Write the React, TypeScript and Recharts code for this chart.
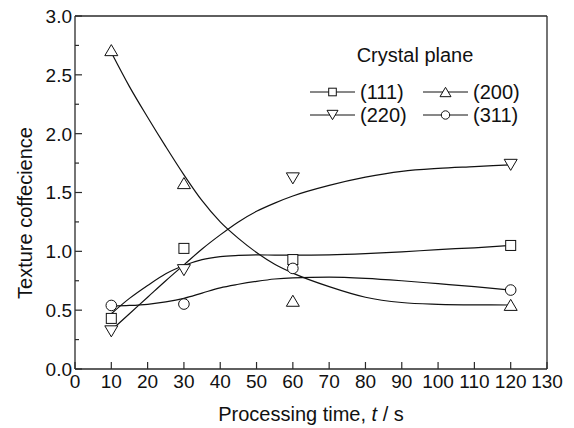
import { ComposedChart, Line, Scatter, XAxis, YAxis, ReferenceLine, Legend } from 'recharts';

// measured data points (texture coefficient vs processing time)
const times = [10, 30, 60, 120];
const tc111 = [0.43, 1.025, 0.93, 1.05];
const tc200 = [2.71, 1.58, 0.58, 0.545];
const tc220 = [0.32, 0.84, 1.62, 1.735];
const tc311 = [0.54, 0.552, 0.855, 0.671];

// fitted curves
const fitX = [10, 15, 20, 25, 30, 35, 40, 45, 50, 55, 60, 70, 80, 90, 100, 110, 120];
const fit111 = [0.47, 0.6, 0.71, 0.81, 0.88, 0.93, 0.955, 0.965, 0.97, 0.968, 0.967, 0.97, 0.98, 0.995, 1.015, 1.03, 1.05];
const fit200 = [2.69, 2.4, 2.14, 1.89, 1.65, 1.43, 1.25, 1.11, 0.99, 0.89, 0.815, 0.7, 0.61, 0.565, 0.55, 0.545, 0.544];
const fit220 = [0.33, 0.47, 0.61, 0.75, 0.885, 1.02, 1.14, 1.25, 1.34, 1.41, 1.47, 1.56, 1.63, 1.68, 1.705, 1.72, 1.735];
const fit311 = [0.535, 0.54, 0.55, 0.57, 0.6, 0.645, 0.69, 0.72, 0.745, 0.765, 0.775, 0.78, 0.77, 0.75, 0.725, 0.7, 0.67];

const xTicks = [0, 10, 20, 30, 40, 50, 60, 70, 80, 90, 100, 110, 120, 130];
const yTicks = [0, 0.25, 0.5, 0.75, 1, 1.25, 1.5, 1.75, 2, 2.25, 2.5, 2.75, 3];

const FONT = '"Liberation Sans", Arial, Helvetica, sans-serif';
const INK = '#111';
const AXIS = '#2a2a2a';
const PLOT_LEFT = 75;
const PLOT_BOTTOM = 369;

const pts = (ys: number[]) => times.map((x, i) => ({ x, y: ys[i] }));
const fit = (ys: number[]) => fitX.map((x, i) => ({ x, y: ys[i] }));

function Square({ cx, cy, s = 5 }: any) {
  return <rect x={cx - s} y={cy - s} width={s * 2} height={s * 2} fill="#fff" stroke={INK} strokeWidth={1} />;
}
function TriUp({ cx, cy, s = 6.5 }: any) {
  const h = s * 0.85;
  return <polygon points={`${cx},${cy - h} ${cx - s},${cy + h} ${cx + s},${cy + h}`} fill="#fff" stroke={INK} strokeWidth={1} />;
}
function TriDown({ cx, cy, s = 6.5 }: any) {
  const h = s * 0.85;
  return <polygon points={`${cx},${cy + h} ${cx - s},${cy - h} ${cx + s},${cy - h}`} fill="#fff" stroke={INK} strokeWidth={1} />;
}
function Circle({ cx, cy, s = 5.3 }: any) {
  return <circle cx={cx} cy={cy} r={s} fill="#fff" stroke={INK} strokeWidth={1} />;
}

function XTick({ x, payload }: any) {
  return (
    <g>
      <line x1={x} x2={x} y1={PLOT_BOTTOM} y2={PLOT_BOTTOM - 7} stroke={AXIS} strokeWidth={1.2} />
      <text x={x} y={PLOT_BOTTOM + 19} textAnchor="middle" fontSize={19} fontFamily={FONT} fill={INK}>
        {payload.value}
      </text>
    </g>
  );
}

function YTick({ y, payload }: any) {
  const major = Math.abs(payload.value * 2 - Math.round(payload.value * 2)) < 1e-6;
  return (
    <g>
      <line x1={PLOT_LEFT} x2={PLOT_LEFT + (major ? 7 : 4)} y1={y} y2={y} stroke={AXIS} strokeWidth={1.2} />
      {major && (
        <text x={PLOT_LEFT - 3} y={y} dy="0.36em" textAnchor="end" fontSize={19} fontFamily={FONT} fill={INK}>
          {payload.value.toFixed(1)}
        </text>
      )}
    </g>
  );
}

function XTitle() {
  return (
    <text x={311} y={421} textAnchor="middle" fontSize={20} fontFamily={FONT} fill={INK}>
      <tspan>Processing time, </tspan>
      <tspan fontStyle="italic">t</tspan>
      <tspan> / s</tspan>
    </text>
  );
}

function YTitle() {
  return (
    <text x={0} y={0} transform="translate(32,213) rotate(-90)" textAnchor="middle" fontSize={20} fontFamily={FONT} fill={INK}>
      Texture coffecience
    </text>
  );
}

const legendItems = [
  { name: '(111)', Mark: Square, size: 3.8, col: 0, row: 0 },
  { name: '(200)', Mark: TriUp, size: 5.5, col: 1, row: 0 },
  { name: '(220)', Mark: TriDown, size: 5.5, col: 0, row: 1 },
  { name: '(311)', Mark: Circle, size: 4.2, col: 1, row: 1 },
];

function LegendBox() {
  return (
    <svg width={574} height={428} style={{ position: 'absolute', left: 0, top: 0, pointerEvents: 'none' }}>
      <text x={415} y={62} textAnchor="middle" fontSize={20} fontFamily={FONT} fill={INK}>
        Crystal plane
      </text>
      {legendItems.map(({ name, Mark, size, col, row }) => {
        const x0 = col === 0 ? 310 : 423;
        const cy = row === 0 ? 92 : 115;
        return (
          <g key={name}>
            <line x1={x0} x2={x0 + 45} y1={cy} y2={cy} stroke={INK} strokeWidth={1} />
            <Mark cx={x0 + 22.5} cy={cy} s={size} />
            <text x={x0 + 50} y={cy + 7} fontSize={20} fontFamily={FONT} fill={INK}>
              {name}
            </text>
          </g>
        );
      })}
    </svg>
  );
}

export default function App() {
  return (
    <div style={{ position: 'absolute', left: 0, top: 0, width: 574, height: 428, background: '#fff' }}>
      <ComposedChart width={574} height={428} margin={{ top: 16, right: 27, bottom: 0, left: 0 }}>
        <XAxis
          type="number"
          dataKey="x"
          domain={[0, 130]}
          ticks={xTicks}
          interval={0}
          height={59}
          tickLine={false}
          tick={<XTick />}
          axisLine={{ stroke: AXIS, strokeWidth: 1.3 }}
          allowDataOverflow
          label={<XTitle />}
        />
        <YAxis
          type="number"
          dataKey="y"
          domain={[0, 3]}
          ticks={yTicks}
          interval={0}
          width={75}
          tickLine={false}
          tick={<YTick />}
          axisLine={{ stroke: AXIS, strokeWidth: 1.3 }}
          allowDataOverflow
          label={<YTitle />}
        />
        <ReferenceLine y={3} stroke={AXIS} strokeWidth={1.3} />
        <ReferenceLine x={130} stroke={AXIS} strokeWidth={1.3} />
        <Line data={fit(fit111)} dataKey="y" type="monotone" stroke={INK} strokeWidth={1.2} dot={false} isAnimationActive={false} />
        <Line data={fit(fit200)} dataKey="y" type="monotone" stroke={INK} strokeWidth={1.2} dot={false} isAnimationActive={false} />
        <Line data={fit(fit220)} dataKey="y" type="monotone" stroke={INK} strokeWidth={1.2} dot={false} isAnimationActive={false} />
        <Line data={fit(fit311)} dataKey="y" type="monotone" stroke={INK} strokeWidth={1.2} dot={false} isAnimationActive={false} />
        <Scatter data={pts(tc111)} shape={<Square />} isAnimationActive={false} />
        <Scatter data={pts(tc200)} shape={<TriUp />} isAnimationActive={false} />
        <Scatter data={pts(tc220)} shape={<TriDown />} isAnimationActive={false} />
        <Scatter data={pts(tc311)} shape={<Circle />} isAnimationActive={false} />
        <Legend layout="vertical" verticalAlign="middle" align="center" content={<LegendBox />} wrapperStyle={{ left: 0, top: 0, width: 574, height: 428 }} />
      </ComposedChart>
    </div>
  );
}
